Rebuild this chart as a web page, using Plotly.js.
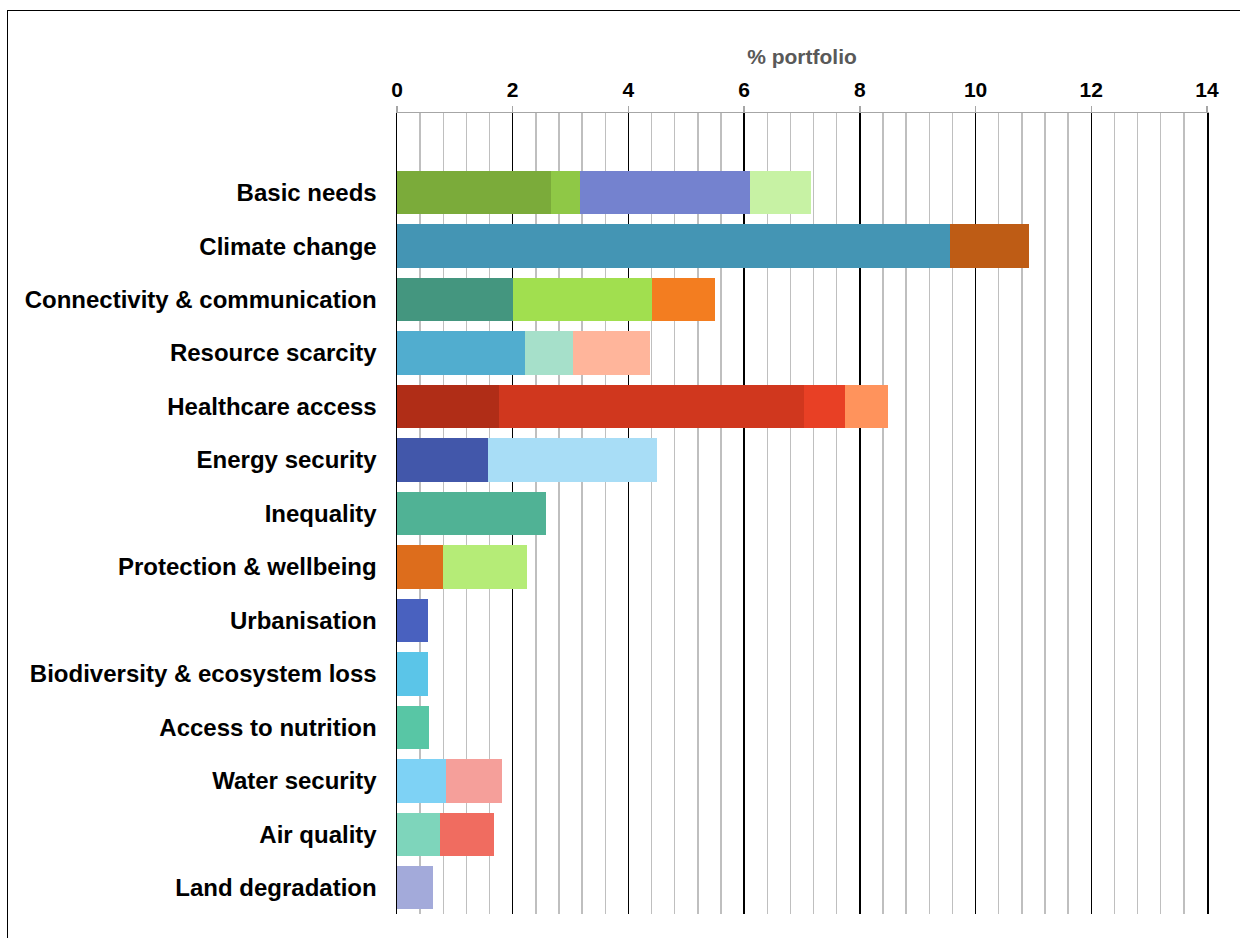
<!DOCTYPE html>
<html>
<head>
<meta charset="utf-8">
<script src="https://cdn.plot.ly/plotly-3.0.1.min.js"></script>
<style>
  html, body { margin: 0; padding: 0; background: #fff; overflow: hidden; }
  #wrap { position: relative; width: 1240px; height: 938px; }
  #chart { width: 1240px; height: 938px; }
  #frame { position: absolute; left: 7px; top: 10px; width: 1300px; height: 1000px;
           border-left: 1.5px solid #000; border-top: 1.5px solid #000; pointer-events: none; }
</style>
</head>
<body>
<div id="wrap"><div id="chart"></div><div id="frame"></div></div>
<script>
const categories = ["Basic needs", "Climate change", "Connectivity & communication", "Resource scarcity",
  "Healthcare access", "Energy security", "Inequality", "Protection & wellbeing", "Urbanisation",
  "Biodiversity & ecosystem loss", "Access to nutrition", "Water security", "Air quality", "Land degradation"];

const seg1 = [2.66, 9.55, 2.00, 2.21, 1.76, 1.57, 2.58, 0.80, 0.54, 0.54, 0.55, 0.85, 0.74, 0.62];
const seg2 = [0.50, 1.37, 2.41, 0.83, 5.27, 2.93, null, 1.45, null, null, null, 0.96, 0.94, null];
const seg3 = [2.94, null, 1.09, 1.33, 0.72, null, null, null, null, null, null, null, null, null];
const seg4 = [1.06, null, null, null, 0.74, null, null, null, null, null, null, null, null, null];

const col1 = ['#7BAB3A','#4495B4','#44967F','#51ADCF','#B02D17','#4257AA','#50B295','#DD6D1C','#4961BF','#5BC5E8','#58C6A5','#7ED2F5','#7ED5BB','#A3AADA'];
const col2 = ['#8FC846','#BE5C15','#A1DF4F','#A6E0CA','#D0371E','#A8DDF6','#ffffff','#B5EC77','#ffffff','#ffffff','#ffffff','#F59F9A','#F06C60','#ffffff'];
const col3 = ['#7482CF','#ffffff','#F37D20','#FFB59B','#E84025','#ffffff','#ffffff','#ffffff','#ffffff','#ffffff','#ffffff','#ffffff','#ffffff','#ffffff'];
const col4 = ['#C7F2A4','#ffffff','#ffffff','#ffffff','#FF935C','#ffffff','#ffffff','#ffffff','#ffffff','#ffffff','#ffffff','#ffffff','#ffffff','#ffffff'];

const tickVals = [0, 2, 4, 6, 8, 10, 12, 14];

const segs = [seg1, seg2, seg3, seg4];
const cols = [col1, col2, col3, col4];
const traces = segs.map((s, i) => ({
  type: 'bar', orientation: 'h', y: categories, x: s,
  marker: { color: cols[i], line: { width: 0 } },
  hoverinfo: 'skip', showlegend: false
}));

const FONT = '"Liberation Sans", Arial, Helvetica, sans-serif';

const layout = {
  width: 1240, height: 938,
  margin: { l: 397, r: 33, t: 113, b: 24, pad: 0 },
  paper_bgcolor: '#ffffff', plot_bgcolor: '#ffffff',
  barmode: 'stack', bargap: 0.19,
  font: { family: FONT, color: '#000' },
  xaxis: {
    side: 'top', range: [0, 14], tickvals: tickVals, ticktext: tickVals.map(String),
    showgrid: true, gridcolor: '#000000', gridwidth: 1.5,
    minor: { dtick: 0.4, tick0: 0, showgrid: true, gridcolor: '#bfbfbf', gridwidth: 1.3, ticks: '' },
    zeroline: false, showline: true, linecolor: '#a6a6a6', linewidth: 1.5,
    ticks: 'outside', ticklen: 6, tickwidth: 1.5, tickcolor: '#a6a6a6',
    tickfont: { family: FONT, size: 21, color: '#000', weight: 'bold' },
    title: { text: '% portfolio', font: { family: FONT, size: 21, color: '#595959', weight: 'bold' }, standoff: 7 },
    fixedrange: true
  },
  yaxis: {
    type: 'category', categoryorder: 'array', categoryarray: categories,
    range: [13.49, -1.49], showgrid: false, zeroline: false,
    showline: true, mirror: true, linecolor: '#000000', linewidth: 1.5,
    ticks: '', ticklabelstandoff: 14,
    tickfont: { family: FONT, size: 24, color: '#000', weight: 'bold' },
    fixedrange: true
  }
};

Plotly.newPlot('chart', traces, layout, { staticPlot: true, displayModeBar: false });
</script>
</body>
</html>
